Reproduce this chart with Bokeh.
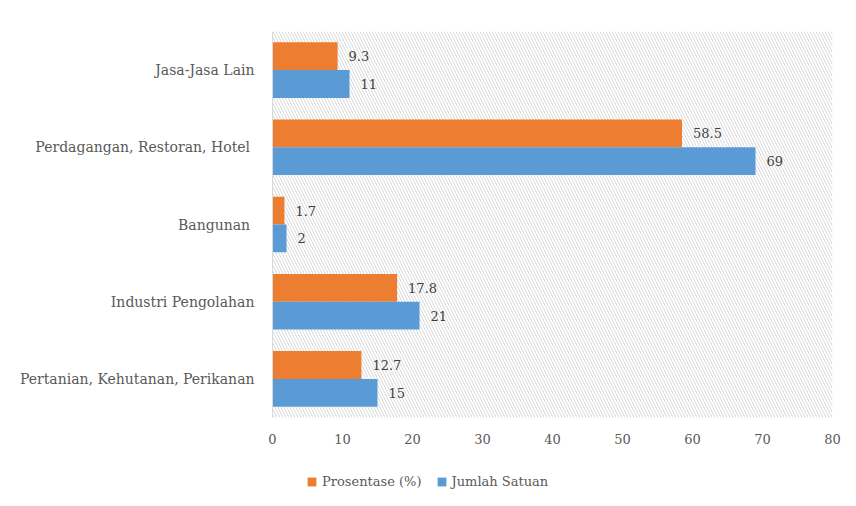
from bokeh.plotting import figure
from bokeh.layouts import column
from bokeh.models import (ColumnDataSource, FactorRange, LabelSet, Legend, LegendItem,
                          BoxAnnotation, Range1d, FixedTicker)
from bokeh.core.properties import value
from bokeh.transform import dodge
from bokeh.embed import file_html
from bokeh.resources import INLINE

categories = ["Jasa-Jasa Lain", "Perdagangan, Restoran, Hotel ", "Bangunan ",
              "Industri Pengolahan", "Pertanian, Kehutanan, Perikanan"]
prosentase = [9.3, 58.5, 1.7, 17.8, 12.7]
jumlah = [11, 69, 2, 21, 15]
prosentase_labels = ["9.3", "58.5", "1.7", "17.8", "12.7"]
jumlah_labels = ["11", "69", "2", "21", "15"]
series_names = ["Prosentase (%)", "Jumlah Satuan"]
x_ticks = [0, 10, 20, 30, 40, 50, 60, 70, 80]

FONT = "DejaVu Serif"
ORANGE = "#ED7D31"
BLUE = "#5B9BD5"

src = ColumnDataSource(dict(cat=categories, p=prosentase, j=jumlah,
                            pl=prosentase_labels, jl=jumlah_labels))

p = figure(frame_width=560, frame_height=386, output_backend="svg", toolbar_location=None,
           y_range=FactorRange(factors=list(reversed(categories)), range_padding=0),
           x_range=Range1d(0, 80),
           min_border_left=272, min_border_right=20, min_border_top=31, min_border_bottom=35)

p.outline_line_color = None
p.border_fill_color = "white"
p.background_fill_color = "white"

hatch = BoxAnnotation(fill_alpha=0, line_alpha=0, hatch_pattern="\\", hatch_color="#d9d9d9",
                      hatch_scale=6, hatch_weight=1, level="underlay")
p.add_layout(hatch)

r1 = p.hbar(y=dodge("cat", 0.18, range=p.y_range), right="p", left=0, height=0.36,
            source=src, fill_color=ORANGE, line_color=None)
r2 = p.hbar(y=dodge("cat", -0.18, range=p.y_range), right="j", left=0, height=0.36,
            source=src, fill_color=BLUE, line_color=None)

for col, lab, off in (("p", "pl", 0.18), ("j", "jl", -0.18)):
    ls = LabelSet(x=col, y=dodge("cat", off, range=p.y_range), text=lab, source=src,
                  x_offset=11, text_baseline="middle", text_font=value(FONT),
                  text_font_size=value("13px"), text_color="#404040")
    p.add_layout(ls)

p.xgrid.visible = False
p.ygrid.visible = False

p.xaxis.ticker = FixedTicker(ticks=x_ticks)
p.xaxis.axis_line_color = None
p.xaxis.major_tick_line_color = None
p.xaxis.minor_tick_line_color = None
p.xaxis.major_label_text_font = FONT
p.xaxis.major_label_text_font_size = "13px"
p.xaxis.major_label_text_color = "#595959"
p.xaxis.major_label_standoff = 10

p.yaxis.axis_line_color = "#d9d9d9"
p.yaxis.major_tick_line_color = None
p.yaxis.minor_tick_line_color = None
p.yaxis.major_label_text_font = FONT
p.yaxis.major_label_text_font_size = "14px"
p.yaxis.major_label_text_color = "#595959"
p.yaxis.major_label_standoff = 12

# legend strip below the chart
lg = figure(width=852, height=50, output_backend="svg", toolbar_location=None,
            x_range=Range1d(0, 1), y_range=Range1d(0, 1), min_border=0)
lg.axis.visible = False
lg.grid.visible = False
lg.outline_line_color = None
lg.border_fill_color = "white"
lg.background_fill_color = "white"
dummy = ColumnDataSource(dict(y=[0], right=[0]))
d1 = lg.hbar(y="y", right="right", left="right", height=0.0, source=dummy,
             fill_color=ORANGE, line_color=None)
d2 = lg.hbar(y="y", right="right", left="right", height=0.0, source=dummy,
             fill_color=BLUE, line_color=None)

legend = Legend(items=[LegendItem(label=series_names[0], renderers=[d1]),
                       LegendItem(label=series_names[1], renderers=[d2])],
                orientation="horizontal", location=(34, 13),
                label_text_font=FONT, label_text_font_size="13px",
                label_text_color="#595959", glyph_width=11, glyph_height=11,
                label_standoff=5, spacing=14, border_line_color=None,
                background_fill_alpha=0, margin=0, padding=4)
lg.add_layout(legend)

layout = column(p, lg, spacing=0)
open("out.html", "w").write(file_html(layout, INLINE))
